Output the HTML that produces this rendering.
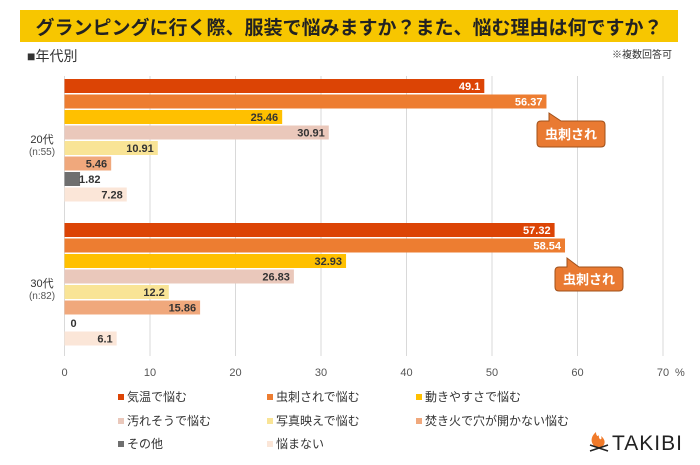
<!DOCTYPE html>
<html><head><meta charset="utf-8">
<style>
body{margin:0;width:700px;height:465px;background:#fff;overflow:hidden;font-family:"Liberation Sans","Noto Sans CJK JP",sans-serif;}
svg{display:block}
</style></head>
<body>
<svg id="chart" width="700" height="465" xmlns="http://www.w3.org/2000/svg" font-family="Liberation Sans, Noto Sans CJK JP, sans-serif">
  <rect x="20" y="10" width="658" height="32" fill="#f7c600"/>
  <text x="349" y="34" text-anchor="middle" font-size="19" font-weight="bold" fill="#222">グランピングに行く際、服装で悩みますか？また、悩む理由は何ですか？</text>
  <text x="27" y="61" font-size="14" fill="#333">■年代別</text>
  <text x="672" y="58" text-anchor="end" font-size="10" fill="#333">※複数回答可</text>
  <g id="grid"></g>
  <g id="bars"></g>
  <g id="labels"></g>
  <g id="legend"></g>
  <g>
    <path d="M549,113 L561,121 L601,121 Q605,121 605,125 L605,143 Q605,147 601,147 L541,147 Q537,147 537,143 L537,125 Q537,121 541,121 L549,121 Z" fill="#e97a32" stroke="#a0501a" stroke-width="1"/>
    <text x="571" y="139" text-anchor="middle" font-size="13" font-weight="bold" fill="#fff">虫刺され</text>
  </g>
  <g>
    <path d="M567,258 L579,267 L619,267 Q623,267 623,271 L623,287 Q623,291 619,291 L559,291 Q555,291 555,287 L555,271 Q555,267 559,267 L567,267 Z" fill="#e97a32" stroke="#a0501a" stroke-width="1"/>
    <text x="589" y="284" text-anchor="middle" font-size="13" font-weight="bold" fill="#fff">虫刺され</text>
  </g>
  <g>
    <path d="M597,448 C590,444 590,437 596,432 C596,436 598,437 599,435 C598,440 603,441 601,436 C606,440 606,445 600,448 Z" fill="#f07a2a"/>
    <path d="M590,451 L608,445 M590,445 L608,451" stroke="#222" stroke-width="1.5"/>
    <text x="612" y="450" font-size="21" fill="#222" letter-spacing="1">TAKIBI</text>
  </g>
</svg>
<script>
const categories=["気温で悩む","虫刺されで悩む","動きやすさで悩む","汚れそうで悩む","写真映えで悩む","焚き火で穴が開かない悩む","その他","悩まない"];
const groups=["20代","30代"];
const groupNs=["(n:55)","(n:82)"];
const values20=[49.1,56.37,25.46,30.91,10.91,5.46,1.82,7.28];
const values30=[57.32,58.54,32.93,26.83,12.2,15.86,0,6.1];
const ticks=[0,10,20,30,40,50,60,70];
const colors=["#dc4405","#ed7d31","#ffc000","#eac8bb","#f9e496","#f0a87c","#6f6f6f","#fbe6d8"];
const NS="http://www.w3.org/2000/svg";
const x=v=>64.5+v*8.55;
const groupTop=[79,223];
const pitch=15.5, bh=14;
function mk(tag,attrs,parent,txt){const e=document.createElementNS(NS,tag);for(const k in attrs)e.setAttribute(k,attrs[k]);if(txt!==undefined)e.textContent=txt;parent.appendChild(e);return e;}
const grid=document.getElementById('grid'),bars=document.getElementById('bars'),labels=document.getElementById('labels'),legend=document.getElementById('legend');
ticks.forEach(t=>{
  const l=mk('line',{x1:x(t),x2:x(t),y1:76,y2:356,stroke:'#d9d9d9','stroke-width':1},grid);
  
  
  const tx=mk('text',{x:x(t),y:376,'text-anchor':'middle','font-size':11,fill:'#555'},grid,String(t));
  
  
});
const pct=mk('text',{x:675,y:376,'font-size':11,fill:'#555'},grid,'%');


[values20,values30].forEach((vals,g)=>{
  const gl=mk('text',{x:42,y:groupTop[g]+64,'text-anchor':'middle','font-size':11,fill:'#333'},labels,groups[g]);
  
  
  const gn=mk('text',{x:42,y:groupTop[g]+76,'text-anchor':'middle','font-size':10,fill:'#555'},labels,groupNs[g]);
  
  
  vals.forEach((v,i)=>{
    const y=groupTop[g]+i*pitch;
    const r=mk('rect',{x:x(0),y:y,width:Math.max(0,x(v)-x(0)),height:bh,fill:colors[i]},bars);
    
    
    const w=x(v)-x(0);
    const inside=w>30;
    const lx=inside?x(v)-4:x(v)+(v===0?6:-1);
    const t=mk('text',{x:lx,y:y+11,'text-anchor':inside?'end':'start','font-size':11,'font-weight':'bold',fill:i<2?'#fff':'#333'},labels,String(v));
    
    
  });
});
const lx=[118,267,416], ly=[401,425,448];
categories.forEach((c,i)=>{
  const cx=lx[i%3], cy=ly[Math.floor(i/3)];
  const g=mk('g',{},legend);
  
  
  mk('rect',{x:cx,y:cy-7,width:6,height:6,fill:colors[i]},g);
  mk('text',{x:cx+9,y:cy,'font-size':12,fill:'#333'},g,c);
});
</script>
</body></html>
